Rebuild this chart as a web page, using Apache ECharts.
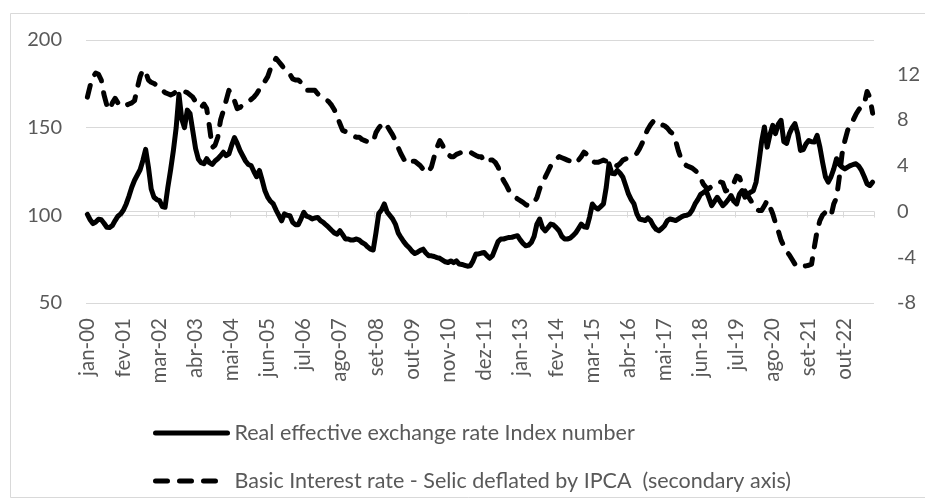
<!DOCTYPE html>
<html><head><meta charset="utf-8">
<script src="https://cdn.jsdelivr.net/npm/echarts@6/dist/echarts.min.js"></script>
<style>html,body{margin:0;padding:0;background:#fff}#c{width:925px;height:504px}</style>
</head><body><div id="c"></div>
<script>
const monthNames = ['jan','fev','mar','abr','mai','jun','jul','ago','set','out','nov','dez'];
const startYear = 2000;

// Real effective exchange rate Index number (left axis), monthly jan-00 .. ago-23
const reer = [
  100.5, 97.5, 95.3, 96.2, 97.8, 97.5, 95.5, 93.2, 93.0, 94.2, 97.0, 99.5,
  100.8, 103.0, 106.5, 111.0, 116.0, 120.0, 123.0, 126.0, 131.3, 137.6, 127.5, 115.0,
  110.3, 109.0, 108.4, 105.0, 104.6, 116.0, 126.0, 137.0, 150.0, 169.0, 155.0, 150.0,
  160.0, 158.0, 148.0, 138.0, 132.0, 130.0, 129.4, 132.3, 130.0, 129.0, 131.0, 132.3,
  134.0, 136.0, 134.0, 135.0, 140.0, 144.3, 141.0, 137.0, 134.0, 131.0, 129.0, 128.4,
  125.0, 122.0, 125.6, 120.0, 114.0, 110.3, 108.0, 106.5, 103.0, 100.0, 96.9, 100.8,
  100.0, 99.8, 96.0, 94.7, 94.7, 98.0, 101.7, 99.5, 99.0, 97.9, 98.5, 98.8,
  97.0, 96.0, 94.5, 93.1, 91.5, 90.0, 89.3, 91.2, 89.0, 86.5, 86.5, 85.9,
  86.0, 86.5, 85.9, 84.5, 83.6, 82.0, 80.7, 80.2, 90.0, 101.0, 103.0, 106.5,
  102.0, 100.0, 98.0, 95.0, 90.0, 87.4, 85.0, 83.0, 81.5, 79.5, 78.2, 79.0,
  80.0, 80.7, 78.5, 77.0, 76.9, 76.5, 75.9, 75.5, 74.5, 73.5, 73.1, 74.0,
  73.0, 74.0, 72.2, 72.0, 71.5, 71.0, 71.2, 74.0, 77.9, 78.0, 78.5, 78.8,
  77.0, 75.5, 77.0, 81.0, 85.0, 86.5, 86.5, 87.0, 87.4, 87.5, 88.0, 88.4,
  86.0, 84.0, 82.6, 83.0, 84.5, 88.0, 95.0, 97.9, 93.0, 91.2, 93.0, 95.0,
  94.5, 93.0, 91.2, 88.0, 86.5, 86.5, 87.0, 88.4, 90.0, 92.5, 95.0, 93.5,
  93.1, 99.0, 106.5, 104.5, 103.6, 105.0, 106.5, 116.0, 129.4, 124.0, 123.7, 125.6,
  124.0, 121.7, 117.0, 112.2, 109.0, 106.5, 101.0, 97.9, 97.5, 97.0, 98.5, 97.0,
  94.0, 92.0, 91.2, 92.5, 94.1, 97.0, 97.9, 97.5, 97.0, 98.0, 99.0, 99.8,
  100.0, 100.8, 103.0, 106.5, 109.0, 112.0, 113.0, 114.1, 110.0, 105.5, 108.0, 110.3,
  108.0, 105.5, 107.0, 109.0, 111.3, 108.0, 106.5, 112.0, 114.1, 110.3, 112.0, 113.2,
  114.0, 118.9, 130.0, 142.0, 150.4, 138.9, 146.0, 151.3, 146.6, 152.0, 154.2, 142.0,
  141.0, 146.6, 150.0, 152.3, 146.6, 137.0, 137.5, 140.8, 142.7, 142.0, 141.8, 145.6,
  138.9, 130.0, 122.0, 118.9, 122.0, 126.5, 132.3, 129.0, 127.5, 126.5, 127.5, 128.4,
  129.0, 129.4, 128.0, 125.6, 122.0, 118.0, 117.0, 118.9
];

// Basic Interest rate - Selic deflated by IPCA (right axis), monthly
const selicReal = [
  10.0, 11.0, 11.8, 12.1, 12.0, 11.5, 10.2, 9.3, 8.9, 9.5, 9.9, 9.5,
  9.2, 9.2, 9.3, 9.4, 9.5, 9.7, 10.8, 11.8, 12.4, 12.2, 11.5, 11.3,
  11.2, 11.05, 10.8, 10.6, 10.4, 10.3, 10.2, 10.3, 10.5, 10.6, 10.5, 10.5,
  10.4, 10.2, 10.0, 9.6, 9.3, 9.1, 9.4, 9.0, 7.4, 5.6, 5.8, 6.5,
  8.0, 8.8, 9.7, 10.6, 10.2, 9.7, 9.0, 9.1, 9.3, 9.4, 9.6, 9.8,
  10.0, 10.3, 10.7, 11.0, 11.4, 11.8, 12.5, 13.0, 13.4, 13.1, 12.8, 12.5,
  12.3, 12.0, 11.6, 11.5, 11.5, 11.3, 11.0, 10.6, 10.6, 10.6, 10.6, 10.3,
  10.1, 10.0, 9.8, 9.6, 9.3, 8.9, 8.3, 7.7, 7.1, 7.0, 6.8, 6.7,
  6.6, 6.5, 6.5, 6.3, 6.2, 6.1, 6.1, 6.1, 6.9, 7.3, 7.6, 7.8,
  7.5, 7.1, 6.7, 6.2, 5.6, 5.05, 4.6, 4.2, 4.3, 4.4, 4.4, 4.2,
  4.0, 3.7, 3.4, 3.5, 3.9, 4.8, 5.6, 6.2, 5.8, 5.2, 5.0, 4.8,
  4.8, 5.0, 5.1, 5.2, 5.3, 5.3, 5.2, 5.05, 4.9, 4.8, 4.8, 4.4,
  4.3, 4.5, 4.5, 4.3, 3.9, 3.2, 2.7, 2.3, 1.8, 1.6, 1.3, 1.1,
  0.96, 0.8, 0.6, 0.5, 0.6, 0.8, 1.2, 2.0, 2.5, 3.0, 3.5, 4.0,
  4.3, 4.6, 4.8, 4.7, 4.6, 4.5, 4.4, 4.3, 4.2, 4.5, 4.8, 5.2,
  5.0, 4.6, 4.4, 4.3, 4.3, 4.4, 4.5, 4.4, 4.3, 4.2, 4.1, 4.0,
  4.2, 4.5, 4.6, 4.7, 4.8, 4.9, 5.1, 5.5, 6.0, 6.7, 7.2, 7.6,
  7.9, 8.0, 7.8, 7.6, 7.5, 7.3, 7.0, 6.8, 6.2, 5.3, 4.6, 4.2,
  4.0, 3.9, 3.8, 3.6, 3.4, 2.9, 2.4, 2.1, 2.0, 2.2, 2.4, 2.5,
  2.6, 2.5, 1.8, 1.9, 2.1, 2.5, 3.1, 3.0, 2.3, 1.8, 1.4, 1.0,
  0.6, 0.2, 0.1, 0.1, 0.5, 0.96, 0.4, -0.2, -1.0, -1.7, -2.5, -3.0,
  -3.5, -3.8, -4.2, -4.6, -4.8, -4.9, -4.8, -4.75, -4.7, -4.6, -3.1, -1.7,
  -0.8, -0.3, -0.07, -0.3, -0.4, 0.67, 1.2, 3.0, 5.05, 6.2, 7.1, 7.6,
  8.0, 8.5, 8.9, 9.2, 9.4, 10.5, 10.0, 8.6
];

const categories = reer.map((_, i) =>
  monthNames[i % 12] + '-' + String((startYear + Math.floor(i / 12)) % 100).padStart(2, '0'));

const leftAxisTicks = [50, 100, 150, 200];
const rightAxisTicks = [-8, -4, 0, 4, 8, 12];
const seriesNames = [
  'Real effective exchange rate Index number',
  'Basic Interest rate - Selic deflated by IPCA  (secondary axis)'
];

const FONT = 'Lato';
const TXT = '#595959';
const GRID = '#d9d9d9';

const chart = echarts.init(document.getElementById('c'), null, { renderer: 'canvas' });
chart.setOption({
  animation: false,
  backgroundColor: '#fff',
  textStyle: { fontFamily: FONT },
  graphic: [{
    type: 'rect', silent: true, z: -10,
    shape: { x: 10.5, y: 13.5, width: 940, height: 484 },
    style: { fill: 'none', stroke: GRID, lineWidth: 1 }
  }],
  grid: { left: 86, right: 51, top: 40, bottom: 201, containLabel: false },
  legend: {
    orient: 'vertical', left: 153, top: 422, padding: 0,
    itemWidth: 72, itemHeight: 22, itemGap: 26,
    data: seriesNames,
    itemStyle: { opacity: 0 },
    lineStyle: { width: 5 },
    textStyle: { fontFamily: FONT, fontSize: 21.5, color: TXT, padding: [0, 0, 0, 2] },
    selectedMode: false
  },
  xAxis: {
    type: 'category', data: categories, boundaryGap: true,
    axisLine: { lineStyle: { color: GRID, width: 1 } },
    axisTick: { show: true, interval: 12, length: 6, lineStyle: { color: GRID } },
    axisLabel: { interval: 12, rotate: 90, margin: 15, color: TXT, fontSize: 20.5, fontFamily: FONT },
    splitLine: { show: false }
  },
  yAxis: [{
    type: 'value', min: leftAxisTicks[0], max: leftAxisTicks[leftAxisTicks.length - 1],
    interval: leftAxisTicks[1] - leftAxisTicks[0],
    axisLine: { show: false }, axisTick: { show: false },
    axisLabel: { color: TXT, fontSize: 20, margin: 24, fontFamily: FONT },
    splitLine: { lineStyle: { color: GRID, width: 1 } }
  }, {
    type: 'value', min: rightAxisTicks[0], max: 15,
    interval: rightAxisTicks[1] - rightAxisTicks[0],
    position: 'right',
    axisLine: { show: false }, axisTick: { show: false },
    axisLabel: { color: TXT, fontSize: 20, margin: 23, fontFamily: FONT, showMaxLabel: false },
    splitLine: { show: false }
  }],
  series: [{
    name: seriesNames[0], type: 'line', yAxisIndex: 0, data: reer,
    symbol: 'none', smooth: false,
    lineStyle: { color: '#000', width: 5, cap: 'round', join: 'round' },
    itemStyle: { color: '#000' }
  }, {
    name: seriesNames[1], type: 'line', yAxisIndex: 1, data: selicReal,
    symbol: 'none', smooth: false,
    lineStyle: { color: '#000', width: 5, type: [12, 12], cap: 'round', join: 'round' },
    itemStyle: { color: '#000' }
  }]
});
</script></body></html>
